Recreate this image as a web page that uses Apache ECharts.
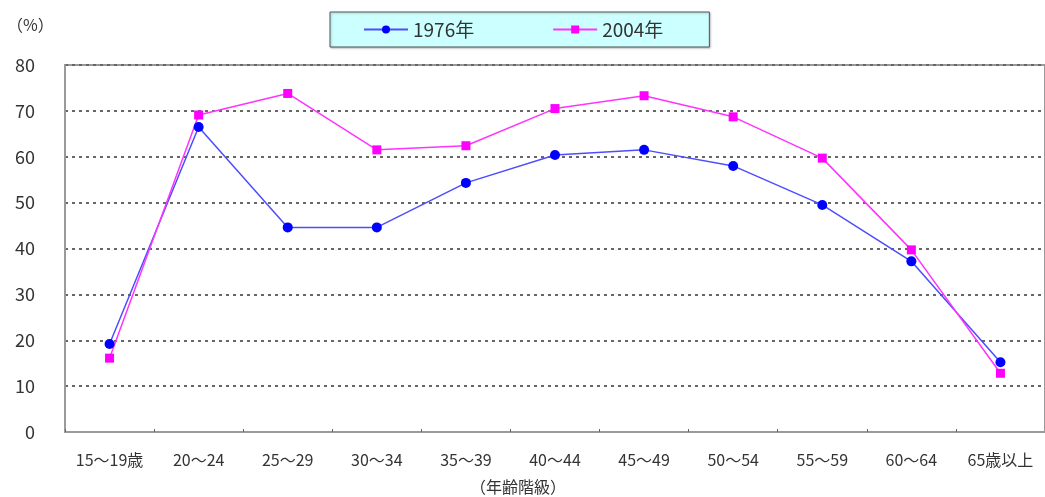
<!DOCTYPE html>
<html>
<head>
<meta charset="utf-8">
<script src="https://cdn.jsdelivr.net/npm/echarts@6/dist/echarts.min.js"></script>
<style>
  html, body { margin: 0; padding: 0; background: #fff; }
  #chart { width: 1045px; height: 497px; }
</style>
</head>
<body>
<div id="chart"></div>
<script>
// 年齢階級別の労働力率（%）
const ageGroups = ['15～19歳', '20～24', '25～29', '30～34', '35～39', '40～44',
                   '45～49', '50～54', '55～59', '60～64', '65歳以上'];
const rate1976 = [19.2, 66.5, 44.6, 44.6, 54.3, 60.4, 61.5, 58.0, 49.5, 37.2, 15.2];
const rate2004 = [16.1, 69.1, 73.8, 61.5, 62.4, 70.5, 73.3, 68.7, 59.7, 39.7, 12.8];
const yTicks = [0, 10, 20, 30, 40, 50, 60, 70, 80];

const FONT = '"Noto Sans CJK JP", "DejaVu Sans", sans-serif';
const chart = echarts.init(document.getElementById('chart'));

chart.setOption({
  animation: false,
  textStyle: { fontFamily: FONT, color: '#333' },
  grid: {
    left: 65, top: 65, width: 988, height: 367,
    show: true, borderColor: '#9a9a9a', borderWidth: 2, backgroundColor: 'transparent'
  },
  legend: {
    left: 330, top: 12,
    data: ['1976年', '2004年'],
    backgroundColor: '#ccffff',
    borderColor: '#555',
    borderWidth: 1,
    shadowColor: 'rgba(0,0,0,0.25)', shadowOffsetX: 1, shadowOffsetY: 1, shadowBlur: 2,
    padding: [8, 46, 8, 33],
    itemGap: 78,
    itemWidth: 44,
    itemHeight: 10,
    textStyle: { fontSize: 19, color: '#333', fontFamily: FONT }
  },
  graphic: [
    { type: 'text', left: 7, top: 17,
      style: { text: '（%）', font: '16px ' + FONT, fill: '#333' } },
    { type: 'text', left: 470, top: 479,
      style: { text: '（年齢階級）', font: '16px ' + FONT, fill: '#333' } }
  ],
  xAxis: {
    type: 'category',
    data: ageGroups,
    boundaryGap: true,
    axisLine: { lineStyle: { color: '#9a9a9a', width: 2 } },
    axisTick: { show: true, inside: true, length: 3, lineStyle: { color: '#666' } },
    axisLabel: { fontSize: 16, color: '#333', margin: 20, interval: 0 },
    splitLine: { show: false }
  },
  yAxis: {
    type: 'value',
    min: yTicks[0], max: yTicks[yTicks.length - 1], interval: 10,
    axisLine: { show: true, lineStyle: { color: '#9a9a9a', width: 2 } },
    axisTick: { show: false },
    axisLabel: { fontSize: 18, color: '#333', margin: 30 },
    splitLine: { show: true, lineStyle: { color: '#666', width: 2, type: [3, 4] } }
  },
  series: [
    {
      name: '1976年', type: 'line', data: rate1976,
      symbol: 'circle', symbolSize: 10,
      lineStyle: { color: '#4d4dff', width: 1.5 },
      itemStyle: { color: '#0000ff' }
    },
    {
      name: '2004年', type: 'line', data: rate2004,
      symbol: 'rect', symbolSize: 9,
      lineStyle: { color: '#ff33ff', width: 1.5 },
      itemStyle: { color: '#ff00ff' }
    }
  ]
});
</script>
</body>
</html>
